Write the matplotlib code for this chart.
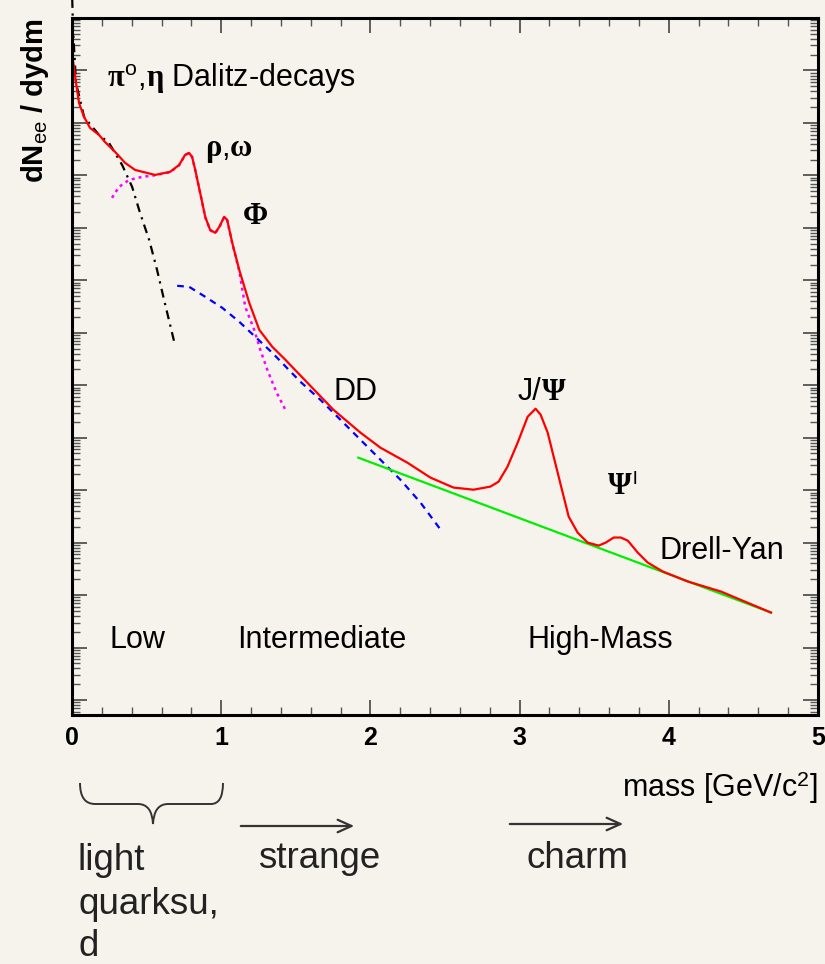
import numpy as np
import matplotlib
matplotlib.use("Agg")
import matplotlib.pyplot as plt
from matplotlib.path import Path
from matplotlib.patches import PathPatch
from matplotlib.ticker import LogLocator, MultipleLocator, NullFormatter

plt.rcParams['font.family'] = ['Liberation Sans', 'DejaVu Sans']
plt.rcParams['mathtext.fontset'] = 'custom'
plt.rcParams['mathtext.rm'] = 'Liberation Sans'
plt.rcParams['mathtext.it'] = 'Liberation Serif:bold'
plt.rcParams['mathtext.bf'] = 'Liberation Sans:bold'

bg = '#f6f3ec'

# total dilepton spectrum (GeV, dN/dydm)
m_total = [0.000, 0.027, 0.047, 0.081, 0.121, 0.181, 0.221, 0.289, 0.356, 0.423,
           0.557, 0.658, 0.718, 0.758, 0.785, 0.805, 0.826, 0.859, 0.893, 0.926,
           0.960, 0.987, 1.020, 1.040, 1.074, 1.121, 1.188, 1.255, 1.342, 1.430,
           1.577, 1.752, 1.933, 2.067, 2.248, 2.403, 2.557, 2.691, 2.805, 2.859,
           2.919, 2.987, 3.054, 3.107, 3.141, 3.188, 3.255, 3.329, 3.389, 3.456,
           3.530, 3.577, 3.631, 3.678, 3.725, 3.792, 3.859, 3.960, 4.128, 4.349,
           4.685]
dn_total = [2.15e4, 5.78e3, 2.40e3, 1.30e3, 803, 591, 434, 280, 173, 127,
            102, 117, 158, 246, 268, 225, 127, 46.4, 16.2, 9.16,
            8.03, 10.4, 16.2, 14.2, 5.18, 1.58, 0.373, 0.114, 0.0541, 0.0306,
            0.0112, 3.41e-3, 1.25e-3, 6.45e-4, 3.34e-4, 1.73e-4, 1.12e-4, 1.02e-4, 1.17e-4, 1.45e-4,
            2.81e-4, 8.03e-4, 2.51e-3, 3.57e-3, 2.74e-3, 1.25e-3, 2.16e-4, 3.13e-5, 1.55e-5, 1.0e-5,
            8.77e-6, 1.0e-5, 1.25e-5, 1.25e-5, 1.09e-5, 6.45e-6, 4.16e-6, 2.81e-6, 1.81e-6, 1.17e-6,
            4.64e-7]

# pi0 / eta Dalitz decays
m_dalitz = [0.000, 0.007, 0.027, 0.081, 0.181, 0.248, 0.336, 0.403, 0.456, 0.517,
            0.570, 0.617, 0.685]
dn_dalitz = [3.4e5, 5.9e4, 5.78e3, 1.30e3, 591, 416, 158, 60.4, 19.3, 5.91,
             1.58, 0.425, 0.0674]

# vector mesons rho, omega, phi
m_vm = [0.268, 0.315, 0.383, 0.470, 0.550, 0.658, 0.718, 0.758, 0.785, 0.805,
        0.826, 0.859, 0.893, 0.926, 0.960, 0.987, 1.020, 1.040, 1.074, 1.121,
        1.161, 1.221, 1.262, 1.309, 1.369, 1.430]
dn_vm = [37.3, 60.4, 82, 93.6, 100, 115, 156, 244, 266, 224,
         126, 46, 16, 9.0, 7.9, 10.2, 16.0, 14.0, 5.1, 1.5,
         0.313, 0.114, 0.0474, 0.0197, 7.52e-3, 3.41e-3]

# open charm DD
m_dd = [0.705, 0.785, 0.893, 1.007, 1.121, 1.228, 1.342, 1.530, 1.664, 1.799,
        1.933, 2.067, 2.201, 2.336, 2.470]
dn_dd = [0.785, 0.752, 0.485, 0.299, 0.162, 0.0839, 0.0416, 0.0117, 5.30e-3, 2.20e-3,
         9.16e-4, 3.81e-4, 1.58e-4, 5.78e-5, 1.77e-5]

# Drell-Yan
m_dy = [1.919, 4.685]
dn_dy = [4.16e-4, 4.64e-7]

fig = plt.figure(figsize=(8.25, 9.64), dpi=100, facecolor=bg)
W, H = 825, 964
ax = fig.add_axes([72 / W, 1 - 715 / H, (818 - 72) / W, (715 - 18) / H], facecolor=bg)

ax.plot(m_dalitz, dn_dalitz, color='black', lw=1.6, ls=(0, (4, 2.5, 1, 2.5)), clip_on=False)
ax.plot(m_vm, dn_vm, color='#ff00ff', lw=1.8, ls=(0, (1.2, 1.6)))
ax.plot(m_dd, dn_dd, color='#0000ff', lw=1.6, ls=(0, (3, 2.5)))
ax.plot(m_dy, dn_dy, color='#00ee00', lw=1.6)
ax.plot(m_total, dn_total, color='#ff0000', lw=1.6)

ax.set_yscale('log')
ax.set_xlim(0, 5)
ax.set_ylim(10 ** -8.286, 1e5)

ax.xaxis.set_major_locator(MultipleLocator(1))
ax.xaxis.set_minor_locator(MultipleLocator(0.2))
ax.yaxis.set_major_locator(LogLocator(base=10, numticks=20))
ax.yaxis.set_minor_locator(LogLocator(base=10, subs=np.arange(2, 10), numticks=20))
ax.yaxis.set_major_formatter(NullFormatter())
ax.yaxis.set_minor_formatter(NullFormatter())
ax.tick_params(which='both', direction='in', top=True, right=True)
ax.tick_params(which='major', length=11, width=1.2, color='#444444')
ax.tick_params(which='minor', length=5.5, width=1.0, color='#555555')
ax.tick_params(axis='x', which='major', labelsize=18, pad=8)
for lab in ax.get_xticklabels():
    lab.set_fontweight('bold')
for s in ax.spines.values():
    s.set_linewidth(2.2)

# overlay in pixel coordinates for labels and sketches
ov = fig.add_axes([0, 0, 1, 1], facecolor='none')
ov.set_xlim(0, W)
ov.set_ylim(H, 0)
ov.axis('off')

serif = dict(family=['Liberation Serif', 'DejaVu Serif'], fontweight='bold')

ov.text(35, 18, r"dN$_{\rm ee}$ / dydm", rotation=90, ha='center', va='top',
        fontsize=21, fontweight='bold')
ov.text(818, 788, r"mass [GeV/c$^{2}$]", ha='right', va='center', fontsize=22)

ov.text(107, 78, r"$\mathit{\pi}^{\rm o}$,$\mathit{\eta}$ Dalitz-decays", ha='left', va='center', fontsize=22)
ov.text(205, 150, r"$\mathit{\rho}$,$\mathit{\omega}$", ha='left', va='center', fontsize=22)
ov.text(256, 216, "Φ", ha='center', va='center', fontsize=22, **serif)
ov.text(333, 392, "DD", ha='left', va='center', fontsize=22)
ov.text(518, 392, "J/", ha='left', va='center', fontsize=22)
ov.text(542, 392, "Ψ", ha='left', va='center', fontsize=22, **serif)
ov.text(608, 486, "Ψ", ha='left', va='center', fontsize=22, **serif)
ov.text(633, 480, "l", ha='left', va='center', fontsize=14)
ov.text(660, 551, "Drell-Yan", ha='left', va='center', fontsize=22)
ov.text(110, 640, "Low", ha='left', va='center', fontsize=22)
ov.text(237, 640, "Intermediate", ha='left', va='center', fontsize=22)
ov.text(528, 640, "High-Mass", ha='left', va='center', fontsize=22)

# curly brace under the low-mass region
verts = [(80, 783), (80, 804), (95, 804), (110, 804),
         (138, 804), (152, 804), (153, 824),
         (154, 804), (168, 804), (196, 804),
         (211, 804), (223, 804), (223, 783)]
codes = [Path.MOVETO, Path.CURVE3, Path.CURVE3, Path.LINETO,
         Path.LINETO, Path.CURVE3, Path.CURVE3,
         Path.CURVE3, Path.CURVE3, Path.LINETO,
         Path.LINETO, Path.CURVE3, Path.CURVE3]
ov.add_patch(PathPatch(Path(verts, codes), fill=False, lw=1.4, edgecolor='#333333'))

for x0, x1, y in [(238, 357, 826), (507, 626, 824)]:
    ov.annotate("", xy=(x1, y), xytext=(x0, y),
                arrowprops=dict(arrowstyle='->,head_length=1.0,head_width=0.45',
                                lw=1.6, color='#333333'))

ov.text(78, 860, "light", ha='left', va='center', fontsize=26.5, color='#222222')
ov.text(78, 905, "quarksu,", ha='left', va='center', fontsize=26.5, color='#222222')
ov.text(78, 946, "d", ha='left', va='center', fontsize=26.5, color='#222222')
ov.text(258, 858, "strange", ha='left', va='center', fontsize=26.5, color='#222222')
ov.text(526, 858, "charm", ha='left', va='center', fontsize=26.5, color='#222222')

fig.savefig("out.png", dpi=100, facecolor=bg)
